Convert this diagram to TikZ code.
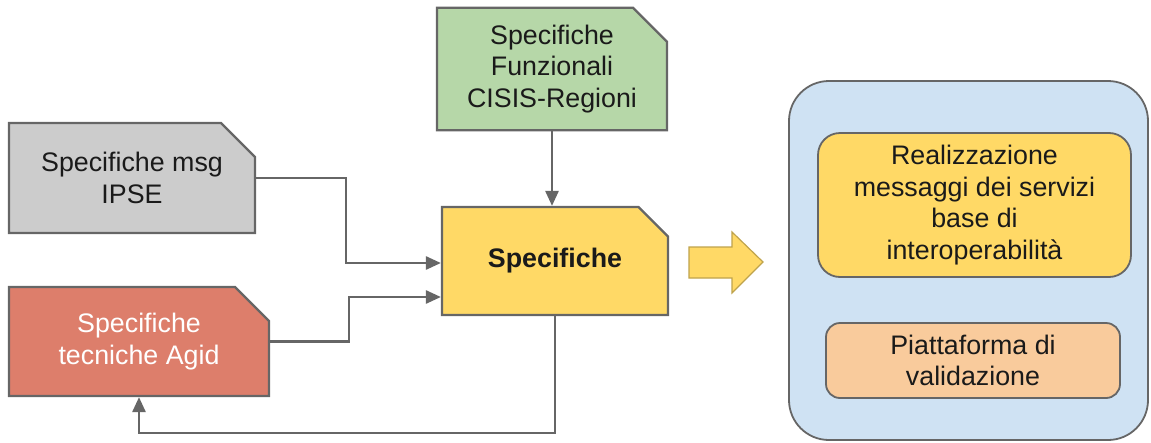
\documentclass[tikz,border=0pt]{standalone}
\usepackage{fontspec}
\setmainfont{Liberation Sans}
\usetikzlibrary{shapes.misc,arrows.meta}
\definecolor{linegray}{HTML}{666666}
\definecolor{ipsegray}{HTML}{CCCCCC}
\definecolor{agidred}{HTML}{DD7E6B}
\definecolor{cisisgreen}{HTML}{B6D7A8}
\definecolor{specyellow}{HTML}{FFD966}
\definecolor{validorange}{HTML}{F9CB9C}
\definecolor{blockblue}{HTML}{CFE2F3}
\definecolor{textgray}{HTML}{1A1A1A}
\tikzset{
    specbox/.style={chamfered rectangle, chamfered rectangle corners=north east,
        chamfered rectangle xsep=17pt, chamfered rectangle ysep=17pt,
        draw=linegray, line width=2.2pt, inner sep=0pt, align=center, text=textgray},
    roundbox/.style={rectangle, draw=linegray, line width=1.8pt, inner sep=0pt,
        align=center, text=textgray},
    flowline/.style={draw=linegray, line width=2.6pt, -{Triangle[length=15pt,width=13pt]}}
}
\begin{document}
\begin{tikzpicture}[x=1pt, y=-1pt, font=\fontsize{26.8}{31.7}\selectfont]
                \useasboundingbox (0, 0) rectangle (1151, 442);

                \node[specbox, fill=ipsegray, minimum width=246pt, minimum height=110pt] (ipse) at (132, 178){Specifiche msg\\IPSE};
                \node[specbox, fill=agidred, text=white, minimum width=260pt, minimum height=109pt] (agid) at (139, 341.5){Specifiche\\tecniche Agid};
                \node[specbox, fill=cisisgreen, minimum width=230pt, minimum height=108pt] (cisis) at (552, 69){Specifiche\\Funzionali\\CISIS-Regioni};
                \node[specbox, fill=specyellow, minimum width=226pt, minimum height=108pt] (spec) at (555, 261){\textbf{Specifiche}};

                    \draw[flowline] (ipse.east) -| ([xshift=-95pt, yshift=-2pt]spec.west) -- ([yshift=-2pt]spec.west);
                    \draw[flowline] (agid.east) -| ([xshift=-92pt, yshift=-36pt]spec.west) -- ([yshift=-36pt]spec.west);
                    \draw[flowline] (cisis.south) -- (cisis.south |- spec.north);
                    \draw[flowline] (spec.south) -- ++(0pt, -117pt) -| (agid.south);

                \draw[draw=specyellow!75!black, fill=specyellow, line width=1.2pt]
                    (689, 247) -- (732, 247) -- (732, 232) -- (763, 262) -- (732, 293) -- (732, 278) -- (689, 278) -- cycle;

                \node[roundbox, fill=blockblue, rounded corners=40pt, minimum width=359pt, minimum height=359pt] (impl) at (968.5, 260.5){};
                    \node[roundbox, fill=specyellow, rounded corners=22pt, minimum width=313pt, minimum height=144pt] (real) at (974.5, 205){Realizzazione\\messaggi dei servizi\\base di\\interoperabilità};
                    \node[roundbox, fill=validorange, rounded corners=14pt, minimum width=294pt, minimum height=75pt] (valid) at (973, 360.5){Piattaforma di\\validazione};

\end{tikzpicture}
\end{document}
